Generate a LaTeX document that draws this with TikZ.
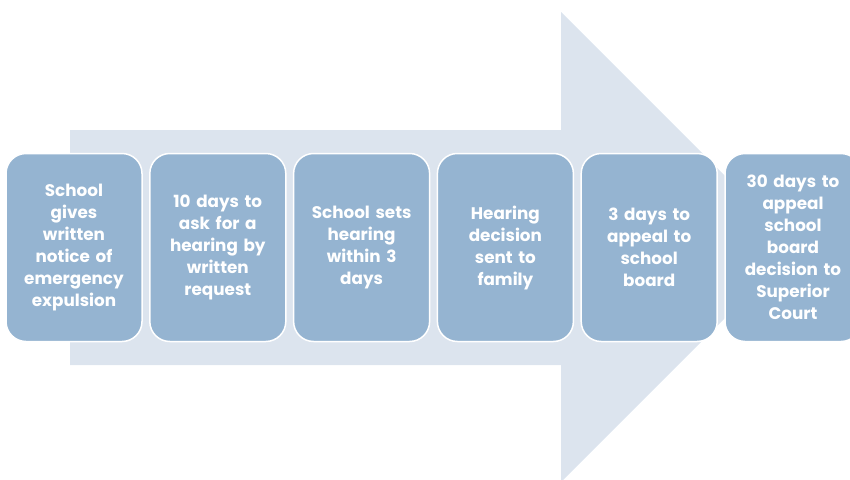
\documentclass[tikz,border=0pt]{standalone}
\usepackage{fontspec}
\setmainfont{Poppins}
\usetikzlibrary{positioning}

\definecolor{arrowbg}{HTML}{DCE4EE}
\definecolor{boxfill}{HTML}{95B4D1}

\tikzset{
  stepbox/.style={rectangle, rounded corners=20pt, fill=boxfill, draw=white,
    line width=1.5pt, minimum width=136pt, minimum height=188pt,
    text width=126pt, align=center, inner sep=0pt, text=white,
    font=\bfseries\fontsize{16.8}{22}\selectfont}
}

\begin{document}
\begin{tikzpicture}[x=1pt, y=-1pt, node distance=6.3pt]
    \useasboundingbox (0,0) rectangle (850,479);
    % big arrow in the background
    \fill[arrowbg] (70,130) -- (561,130) -- (561,12) -- (796,247)
        -- (561,482) -- (561,365) -- (70,365) -- cycle;

    \node (s1) [stepbox] at (74,247.5) {School\\gives\\written\\notice of\\emergency\\expulsion};
    \node (s2) [stepbox, right=of s1] {10 days to\\ask for a\\hearing by\\written\\request};
    \node (s3) [stepbox, right=of s2] {School sets\\hearing\\within 3\\days};
    \node (s4) [stepbox, right=of s3] {Hearing\\decision\\sent to\\family};
    \node (s5) [stepbox, right=of s4] {3 days to\\appeal to\\school\\board};
    \node (s6) [stepbox, right=of s5] {30 days to\\appeal\\school\\board\\decision to\\Superior\\Court};
\end{tikzpicture}
\end{document}
